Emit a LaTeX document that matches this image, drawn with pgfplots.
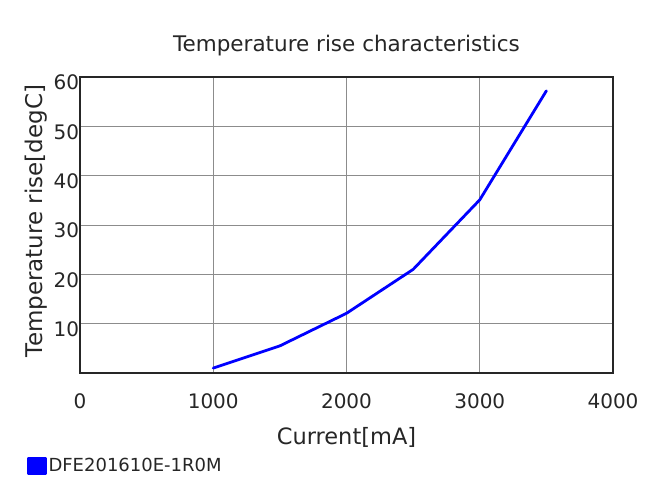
\documentclass[border=0pt]{standalone}
\usepackage{fontspec}
\setmainfont{DejaVu Sans}
\usepackage{pgfplots}
\pgfplotsset{compat=1.18}
\begin{document}
\begin{tikzpicture}[x=1bp,y=1bp]
\path[use as bounding box] (0,0) rectangle (659,504);
\begin{axis}[
  at={(80bp,131bp)}, anchor=south west,
  scale only axis, width=533bp, height=296bp,
  xmin=0, xmax=4000, ymin=0, ymax=60,
  xtick={0,1000,2000,3000,4000},
  ytick={10,20,30,40,50,60},
  major tick length=0pt,
  grid=major,
  major grid style={gray!90, line width=0.8bp},
  axis line style={black!85, line width=1.2bp},
  /pgf/number format/assume math mode=true,
  /pgf/number format/1000 sep={},
  tick label style={font=\fontsize{20bp}{23bp}\selectfont, text=black!85},
  xticklabel style={yshift=-17bp},
  yticklabel style={anchor=north east, yshift=5.5bp, xshift=2.5bp},
  title={Temperature rise characteristics},
  title style={font=\fontsize{21.5bp}{24bp}\selectfont, text=black!85, at={(0.5,1)}, yshift=12bp},
  xlabel={Current[mA]},
  ylabel={Temperature rise[degC]},
  label style={font=\fontsize{22.5bp}{26bp}\selectfont, text=black!85},
  xlabel style={yshift=-12bp},
  ylabel style={font=\fontsize{23bp}{26bp}\selectfont, yshift=-1bp, xshift=4bp},
  legend style={at={(-0.0994,-0.314)}, anchor=west, draw=none, fill=none, inner sep=0pt,
    font=\fontsize{18bp}{21bp}\selectfont, text=black!85, cells={anchor=west},
    nodes={inner xsep=2bp}},
  legend image code/.code={\fill[blue] (0bp,-8bp) rectangle (16.5bp,8bp);},
]
\addplot[blue, line width=2.8bp, line join=round, line cap=round] coordinates {
  (1000,1.0) (1500,5.5) (2000,12.1) (2500,21.0) (3000,35.1) (3500,57.2)
};
\addlegendentry{DFE201610E-1R0M}
\end{axis}
\end{tikzpicture}
\end{document}
